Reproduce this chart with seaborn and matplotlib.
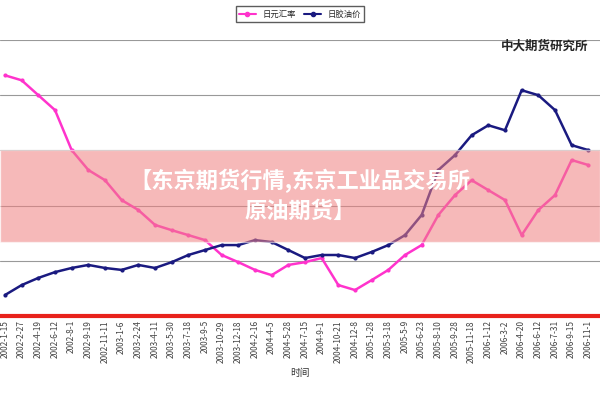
import matplotlib
matplotlib.use("Agg")
import matplotlib.pyplot as plt
import seaborn as sns
import pandas as pd

sns.set_style("white")
plt.rcParams['font.family'] = ['Noto Sans CJK SC', 'DejaVu Sans']

dates = ["2002-1-15","2002-2-27","2002-4-19","2002-6-12","2002-8-1","2002-9-19","2002-11-11",
         "2003-1-6","2003-2-24","2003-4-11","2003-5-30","2003-7-18","2003-9-5","2003-10-29",
         "2003-12-18","2004-2-16","2004-4-5","2004-5-28","2004-7-15","2004-9-1","2004-10-21",
         "2004-12-8","2005-1-28","2005-3-18","2005-5-9","2005-6-23","2005-8-10","2005-9-28",
         "2005-11-18","2006-1-12","2006-3-2","2006-4-20","2006-6-12","2006-7-31","2006-9-15","2006-11-1"]
yen = [87.2,85.4,80.0,74.6,60.1,52.9,49.2,42.0,38.4,33.0,31.1,29.3,27.5,22.1,19.5,16.7,14.8,18.5,
       19.5,21.0,11.2,9.4,13.0,16.7,22.1,25.7,36.6,43.8,49.2,45.6,42.0,29.3,38.4,43.8,56.5,54.7]
oil = [7.6,11.2,13.8,15.9,17.4,18.5,17.4,16.7,18.5,17.4,19.5,22.1,23.9,25.7,25.7,27.5,26.8,23.9,
       21.0,22.1,22.1,21.0,23.2,25.7,29.3,36.6,52.9,58.3,65.5,69.1,67.3,81.8,80.0,74.6,61.9,60.1]
names = ["日元汇率", "日胶油价"]

df = pd.DataFrame({"date": dates * 2, "value": yen + oil,
                   "series": [names[0]] * len(dates) + [names[1]] * len(dates)})

fig = plt.figure(figsize=(6, 4), dpi=100)
ax = fig.add_axes([0.0, 0.21, 1.0, 0.69])
sns.lineplot(data=df, x="date", y="value", hue="series", sort=False,
             palette=["#ff33cc", "#1a1a80"], marker="o", markersize=3,
             markeredgewidth=0, linewidth=1.8, ax=ax, legend=False)
ax.set_xlim(-0.3, len(dates) - 0.3)
ax.set_ylim(0, 100)
ax.set_yticks([0, 20, 40, 60, 80, 100])
ax.set_yticklabels([])
ax.tick_params(axis='y', length=0)
ax.yaxis.grid(True, color="#999999", linewidth=0.8)
for s in ["top", "right", "left"]:
    ax.spines[s].set_visible(False)
ax.spines["bottom"].set_color("#e8221c")
ax.spines["bottom"].set_linewidth(3)
ax.set_xticks(range(len(dates)))
ax.set_xticklabels(dates, rotation=90, fontsize=6, color="#444444")
ax.tick_params(axis='x', length=0, pad=3)
ax.set_xlabel("时间", fontsize=7, color="#333333")
ax.set_ylabel("")

fig.text(0.98, 0.885, "中大期货研究所", ha="right", va="center", fontsize=9, weight="bold")
from matplotlib.lines import Line2D
handles = [Line2D([], [], color="#ff33cc", marker="o", markersize=3),
           Line2D([], [], color="#1a1a80", marker="o", markersize=3)]
fig.legend(handles, names, loc="center", bbox_to_anchor=(0.5, 0.965), ncol=2, fontsize=6,
           frameon=True, fancybox=False, edgecolor="#333333", handlelength=2, columnspacing=1)

fig.patches.append(plt.Rectangle((0, 0.395), 1, 0.23, transform=fig.transFigure,
                                 facecolor="#f08080", alpha=0.55, zorder=5))
fig.text(0.5, 0.51, "【东京期货行情,东京工业品交易所\n原油期货】", ha="center", va="center",
         fontsize=16, weight="bold", color="white", zorder=6, linespacing=1.4)
fig.savefig("out.png", dpi=100)
